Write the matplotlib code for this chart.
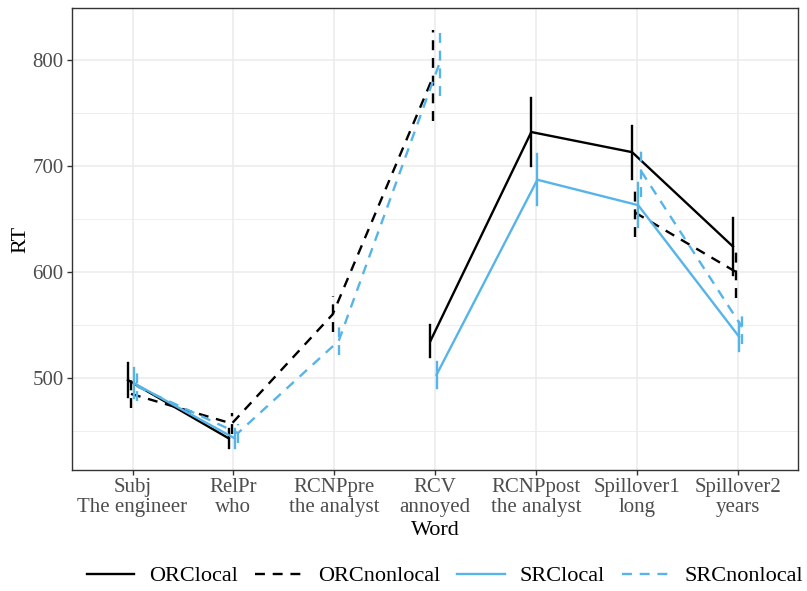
import numpy as np
import matplotlib
matplotlib.use("Agg")
import matplotlib.pyplot as plt
from matplotlib.lines import Line2D

plt.rcParams['font.family'] = ['Liberation Serif', 'DejaVu Serif']

categories = ["Subj\nThe engineer", "RelPr\nwho", "RCNPpre\nthe analyst", "RCV\nannoyed",
              "RCNPpost\nthe analyst", "Spillover1\nlong", "Spillover2\nyears"]
nan = np.nan
series_names = ["ORClocal", "ORCnonlocal", "SRClocal", "SRCnonlocal"]
orc_local = [498, 443, nan, 535, 732, 713, 624]
orc_local_se = [16, 9, nan, 15, 32, 25, 27]
orc_nonlocal = [485, 457, 560, 785, nan, 656, 600]
orc_nonlocal_se = [13, 10, 17, 43, nan, 23, 25]
src_local = [495, 443, nan, 503, 687, 663, 539]
src_local_se = [14, 9, nan, 12, 24, 21, 14]
src_nonlocal = [492, 448, 535, 797, nan, 695, 548]
src_nonlocal_se = [14, 9, 13, 31, nan, 24, 16]

values = [orc_local, orc_nonlocal, src_local, src_nonlocal]
ses = [orc_local_se, orc_nonlocal_se, src_local_se, src_nonlocal_se]
colors = ["black", "black", "#56B4E9", "#56B4E9"]
dash = (0, (4.2, 3.3))
styles = ["-", dash, "-", dash]
offsets = [-0.045, -0.015, 0.015, 0.045]

fig = plt.figure(figsize=(8.07, 5.91), dpi=100)
ax = fig.add_axes([72/807, 1-470/591, (798-72)/807, (470-8)/591])

x = np.arange(1, len(categories)+1)
lw = 1.7
for v, s, c, ls, off in zip(values, ses, colors, styles, offsets):
    v = np.array(v, dtype=float); s = np.array(s, dtype=float)
    xx = x + off
    ax.plot(xx, v, color=c, linestyle=ls, lw=lw, zorder=3)
    for xi, vi, si in zip(xx, v, s):
        if np.isfinite(vi):
            ax.plot([xi, xi], [vi - si, vi + si], color=c, linestyle=ls, lw=lw, zorder=3)

ax.set_xlim(0.4, 7.6)
ax.set_ylim(413.2, 849)
ax.set_xticks(x)
ax.set_xticklabels(categories)
ax.set_yticks([500, 600, 700, 800])
ax.set_yticks([450, 550, 650, 750], minor=True)
ax.grid(True, which='major', color='#EBEBEB', lw=1.1, zorder=0)
ax.grid(True, which='minor', axis='y', color='#EBEBEB', lw=0.6, zorder=0)
ax.set_axisbelow(True)
for sp in ax.spines.values():
    sp.set_color('#333333')
    sp.set_linewidth(1.0)
ax.tick_params(axis='both', which='major', colors='#333333', labelcolor='#4D4D4D',
               labelsize=15, length=3.5, width=1.0, pad=2.5)
ax.tick_params(axis='y', which='minor', length=0)
for t in ax.get_xticklabels():
    t.set_linespacing(1.05)
ax.set_xlabel("Word", fontsize=16, labelpad=3)
ax.set_ylabel("RT", fontsize=16, labelpad=1.5)

handles = [Line2D([], [], color=c, linestyle=ls, lw=lw) for c, ls in zip(colors, styles)]
fig.legend(handles, series_names, loc='center', bbox_to_anchor=(445/807, 1-576/591),
           ncol=4, frameon=False, fontsize=16, handlelength=2.15, handletextpad=0.67,
           columnspacing=0.77)

fig.savefig("out.png", dpi=100)
